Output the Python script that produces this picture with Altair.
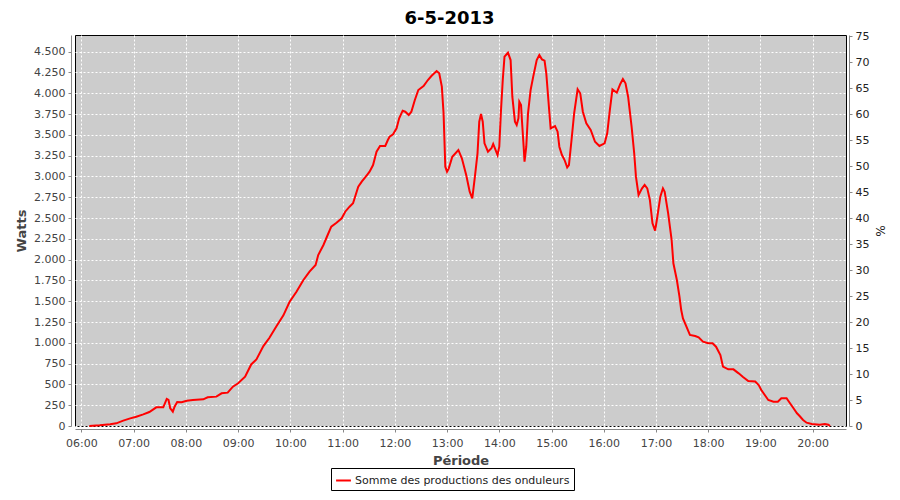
import altair as alt
import pandas as pd

# ---- data ----
times = [
    "06:09", "06:21", "06:33", "06:40", "06:48", "06:56",
    "07:03", "07:11", "07:18", "07:26", "07:34", "07:38", "07:40", "07:42", "07:45", "07:47", "07:50", "07:55",
    "08:01", "08:08", "08:20", "08:25", "08:35", "08:41", "08:48", "08:54",
    "09:00", "09:08", "09:15", "09:21", "09:29", "09:36", "09:44", "09:52", "09:59",
    "10:07", "10:15", "10:22", "10:29", "10:32", "10:38", "10:42", "10:47", "10:53", "10:59",
    "11:03", "11:08", "11:12", "11:15", "11:18", "11:22", "11:28", "11:31", "11:35", "11:39", "11:43", "11:49", "11:52", "11:54", "11:58",
    "12:02", "12:05", "12:09", "12:12", "12:16", "12:19", "12:23", "12:27", "12:33", "12:38", "12:42", "12:48", "12:51", "12:54", "12:56", "12:58",
    "13:00", "13:02", "13:06", "13:13", "13:17", "13:22", "13:26", "13:29", "13:32", "13:35", "13:37", "13:39", "13:41", "13:43", "13:47", "13:51", "13:53", "13:55", "13:58",
    "14:00", "14:02", "14:04", "14:06", "14:10", "14:13", "14:15", "14:18", "14:20", "14:22", "14:23", "14:25", "14:26", "14:28", "14:29", "14:31", "14:33", "14:36", "14:39", "14:43", "14:46", "14:49", "14:52", "14:54", "14:57", "14:59",
    "15:04", "15:07", "15:09", "15:12", "15:15", "15:18", "15:20", "15:23", "15:26", "15:30", "15:33", "15:36", "15:40", "15:45", "15:50", "15:55",
    "16:01", "16:04", "16:07", "16:10", "16:15", "16:19", "16:22", "16:25", "16:28", "16:32", "16:35", "16:37", "16:40", "16:44", "16:47", "16:50", "16:53", "16:56", "16:59",
    "17:01", "17:05", "17:08", "17:10", "17:14", "17:18", "17:20", "17:24", "17:27", "17:29", "17:31", "17:35", "17:39", "17:45", "17:49", "17:54",
    "18:00", "18:05", "18:09", "18:14", "18:17", "18:23", "18:29", "18:35", "18:40", "18:46", "18:54", "18:58",
    "19:01", "19:05", "19:09", "19:15", "19:20", "19:24", "19:30", "19:34", "19:38", "19:42", "19:45", "19:49", "19:53", "19:59",
    "20:08", "20:14", "20:18", "20:20",
]
watts = [
    0, 8, 20, 32, 64, 92,
    112, 140, 168, 224, 224, 325, 313, 213, 172, 232, 288, 285,
    304, 313, 321, 345, 353, 393, 401, 473,
    513, 593, 740, 800, 960, 1060, 1200, 1330, 1490,
    1614, 1755, 1855, 1935, 2055, 2176, 2275, 2396, 2444, 2497,
    2576, 2636, 2677, 2777, 2876, 2937, 3017, 3057, 3137, 3297, 3366, 3366, 3438, 3477, 3506,
    3578, 3698, 3790, 3778, 3738, 3778, 3919, 4039, 4087, 4159, 4207, 4267, 4240, 4079, 3759, 3117,
    3057, 3097, 3237, 3318, 3218, 3017, 2816, 2737, 2997, 3278, 3658, 3750, 3658, 3398, 3297, 3338, 3390, 3338, 3257,
    3357, 3798, 4159, 4439, 4487, 4399, 3958, 3658, 3618, 3698, 3898, 3858, 3678, 3357, 3177, 3357, 3758, 4039, 4199, 4399, 4459, 4407, 4391, 4240, 3838, 3578,
    3606, 3538, 3357, 3257, 3197, 3109, 3137, 3438, 3758, 4047, 3999, 3778, 3638, 3558, 3417, 3366,
    3398, 3518, 3798, 4047, 4006, 4111, 4171, 4119, 3958, 3598, 3278, 2997, 2777, 2857, 2897, 2857, 2717, 2436, 2348,
    2476, 2756, 2857, 2816, 2557, 2236, 1956, 1755, 1554, 1394, 1294, 1194, 1094, 1082, 1066, 1013,
    994, 994, 953, 853, 713, 681, 681, 633, 590, 541, 535, 493,
    433, 373, 313, 292, 292, 333, 333, 273, 213, 153, 120, 72, 40, 24,
    16, 24, 16, 0,
]
series_name = "Somme des productions des onduleurs"
day = "2013-05-06"
title_text = "6-5-2013"
hour_ticks = list(range(6, 21))
watt_ticks = list(range(0, 4501, 250))
pct_ticks = list(range(0, 76, 5))

df = pd.DataFrame({
    "t": [f"{day}T{t}:00" for t in times],
    "w": watts,
    "serie": [series_name] * len(times),
})
pct_df = pd.DataFrame({"p": [0, 75]})

FONT = "DejaVu Sans"

x_scale = alt.Scale(domain=[
    alt.DateTime(year=2013, month=5, date=6, hours=5, minutes=52, seconds=36),
    alt.DateTime(year=2013, month=5, date=6, hours=20, minutes=38, seconds=18),
])

line = alt.Chart(df).mark_line(strokeWidth=2, interpolate="linear").encode(
    x=alt.X("t:T", scale=x_scale,
            axis=alt.Axis(
                title="Période",
                values=[alt.DateTime(year=2013, month=5, date=6, hours=h) for h in hour_ticks],
                format="%H:%M",
                offset=3, grid=True, gridColor="white", gridDash=[2, 2], gridWidth=1,
                domainColor="#888888", tickColor="#888888", tickSize=3,
                labelFont=FONT, labelFontSize=11, labelColor="#444444", labelPadding=5,
                titleFont=FONT, titleFontSize=13, titleFontWeight="bold", titleColor="#444444",
                titlePadding=6,
            )),
    y=alt.Y("w:Q", scale=alt.Scale(domain=[0, 4700], nice=False, zero=True),
            axis=alt.Axis(
                title="Watts",
                values=watt_ticks,
                labelExpr="replace(format(datum.value, ','), ',', '.')",
                offset=4, grid=True, gridColor="white", gridDash=[2, 2], gridWidth=1,
                domainColor="#888888", tickColor="#888888", tickSize=3,
                labelFont=FONT, labelFontSize=11, labelColor="#444444", labelPadding=3,
                titleFont=FONT, titleFontSize=13, titleFontWeight="bold", titleColor="#444444",
                titlePadding=5,
            )),
    color=alt.Color("serie:N", scale=alt.Scale(range=["#FF0000"]),
                    legend=alt.Legend(
                        title=None, orient="none", legendX=256, legendY=433,
                        symbolType="stroke", symbolStrokeWidth=2, symbolSize=220,
                        labelFont=FONT, labelFontSize=11, labelColor="#222222",
                        labelLimit=0,
                        strokeColor="black", fillColor="white", padding=4,
                        labelOffset=3, cornerRadius=0,
                    )),
)

right = alt.Chart(pct_df).mark_rule(opacity=0).encode(
    y=alt.Y("p:Q", scale=alt.Scale(domain=[0, 75.2], nice=False),
            axis=alt.Axis(
                title="%", orient="right", values=pct_ticks,
                offset=3, grid=False,
                domainColor="#888888", tickColor="#888888", tickSize=3,
                labelFont=FONT, labelFontSize=11, labelColor="#222222", labelPadding=3,
                titleFont=FONT, titleFontSize=12, titleFontWeight="normal", titleColor="#222222",
                titlePadding=4,
            )),
)

chart = alt.layer(line, right).resolve_scale(y="independent").properties(
    width=771, height=391,
    title=alt.TitleParams(title_text, font=FONT, fontSize=18, fontWeight="bold",
                          color="black", anchor="middle", dx=-11, offset=2),
    autosize=alt.AutoSizeParams(type="none"),
    padding={"left": 67, "top": 27, "right": 46, "bottom": 66},
    background="white",
).configure_view(
    fill="#CCCCCC", stroke="black", strokeWidth=1,
)

chart.save("out.html", embed_options={"renderer": "svg", "actions": False})
